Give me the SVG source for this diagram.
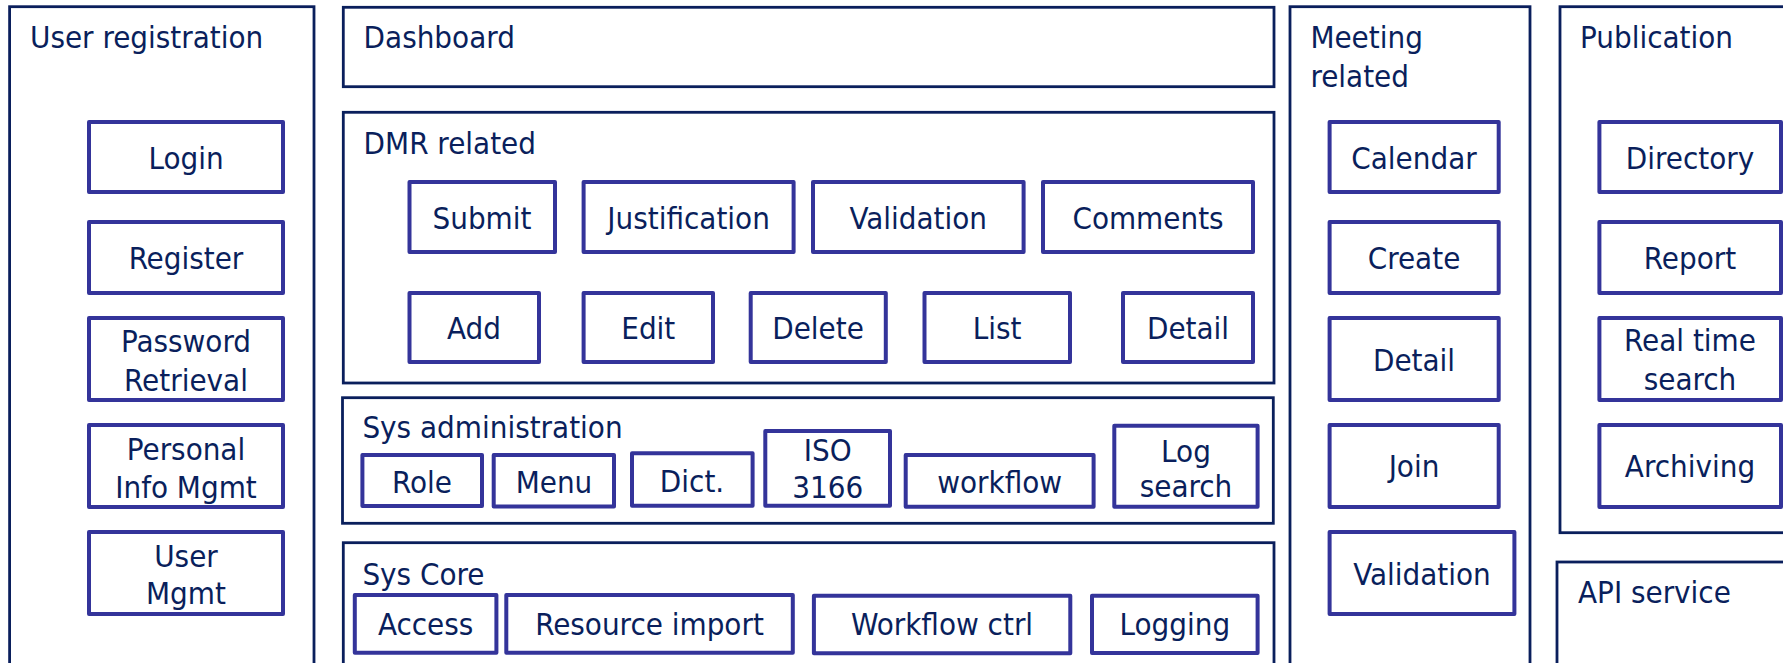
<svg xmlns="http://www.w3.org/2000/svg" width="1783" height="663" viewBox="0 0 1783 663">
<style>
.bg{fill:#ffffff}
.outer{fill:none;stroke:#0a1f5c;stroke-width:2.8}
.inner{fill:#ffffff;stroke:#34349a;stroke-width:4;stroke-linejoin:round}
text{font-family:"DejaVu Sans Condensed","Liberation Sans",sans-serif;font-size:31px;fill:#0a1f5c}
.c{text-anchor:middle}
</style>
<rect class="bg" x="0" y="0" width="1783" height="663"/>

<g id="user-registration">
<rect class="outer" x="9.6" y="6.7" width="304.4" height="680"/>
<text x="30" y="48">User registration</text>
</g>
<g id="login"><rect class="inner" x="89" y="122" width="194" height="70"/><text class="c" x="186" y="169">Login</text></g>
<g id="register"><rect class="inner" x="89" y="222" width="194" height="71"/><text class="c" x="186" y="269">Register</text></g>
<g id="password-retrieval"><rect class="inner" x="89" y="318" width="194" height="82"/><text class="c" x="186" y="352">Password</text><text class="c" x="186" y="391">Retrieval</text></g>
<g id="personal-info"><rect class="inner" x="89" y="425" width="194" height="82"/><text class="c" x="186" y="460">Personal</text><text class="c" x="186" y="498">Info Mgmt</text></g>
<g id="user-mgmt"><rect class="inner" x="89" y="532" width="194" height="82"/><text class="c" x="186" y="567">User</text><text class="c" x="186" y="604">Mgmt</text></g>

<g id="dashboard">
<rect class="outer" x="343.3" y="7.3" width="930.7" height="79.4"/>
<text x="363.6" y="48">Dashboard</text>
</g>

<g id="dmr-related">
<rect class="outer" x="343.3" y="112.3" width="930.7" height="270.7"/>
<text x="363.6" y="154">DMR related</text>
</g>
<g id="dmr-submit"><rect class="inner" x="409.5" y="182" width="145.5" height="70"/><text class="c" x="482" y="229">Submit</text></g>
<g id="dmr-justification"><rect class="inner" x="583.6" y="182" width="210" height="70"/><text class="c" x="688.6" y="229">Justification</text></g>
<g id="dmr-validation"><rect class="inner" x="813" y="182" width="210.6" height="70"/><text class="c" x="918.3" y="229">Validation</text></g>
<g id="dmr-comments"><rect class="inner" x="1043" y="182" width="210" height="70"/><text class="c" x="1148" y="229">Comments</text></g>
<g id="dmr-add"><rect class="inner" x="409.5" y="293" width="129.5" height="69"/><text class="c" x="474" y="339">Add</text></g>
<g id="dmr-edit"><rect class="inner" x="583.6" y="293" width="129.4" height="69"/><text class="c" x="648.3" y="339">Edit</text></g>
<g id="dmr-delete"><rect class="inner" x="750.7" y="293" width="135.1" height="69"/><text class="c" x="818" y="339">Delete</text></g>
<g id="dmr-list"><rect class="inner" x="924.5" y="293" width="145.5" height="69"/><text class="c" x="997" y="339">List</text></g>
<g id="dmr-detail"><rect class="inner" x="1123" y="293" width="130" height="69"/><text class="c" x="1188" y="339">Detail</text></g>

<g id="sys-administration">
<rect class="outer" x="342.5" y="397.7" width="930.8" height="125.6"/>
<text x="362.4" y="438">Sys administration</text>
</g>
<g id="sa-role"><rect class="inner" x="362.4" y="455" width="119.6" height="51"/><text class="c" x="422" y="493">Role</text></g>
<g id="sa-menu"><rect class="inner" x="493.7" y="455" width="120.3" height="51.5"/><text class="c" x="554" y="493">Menu</text></g>
<g id="sa-dict"><rect class="inner" x="632" y="453.3" width="120.6" height="52.4"/><text class="c" x="692" y="492">Dict.</text></g>
<g id="sa-iso"><rect class="inner" x="765.3" y="431" width="124.7" height="74.7"/><text class="c" x="827.7" y="460.7">ISO</text><text class="c" x="827.7" y="498">3166</text></g>
<g id="sa-workflow"><rect class="inner" x="905.7" y="455" width="187.9" height="51.7"/><text class="c" x="999.7" y="493">workflow</text></g>
<g id="sa-log-search"><rect class="inner" x="1114.3" y="425.7" width="143.3" height="81"/><text class="c" x="1186" y="461.7">Log</text><text class="c" x="1186" y="497">search</text></g>

<g id="sys-core">
<rect class="outer" x="343.3" y="542.7" width="930.7" height="140"/>
<text x="362.4" y="585">Sys Core</text>
</g>
<g id="sc-access"><rect class="inner" x="354.8" y="595" width="141.6" height="57.7"/><text class="c" x="425.6" y="635">Access</text></g>
<g id="sc-resource-import"><rect class="inner" x="506.3" y="595" width="286.5" height="57.7"/><text class="c" x="649.5" y="635">Resource import</text></g>
<g id="sc-workflow-ctrl"><rect class="inner" x="813.9" y="595.7" width="256.4" height="57.6"/><text class="c" x="942" y="635">Workflow ctrl</text></g>
<g id="sc-logging"><rect class="inner" x="1092" y="595.7" width="165.6" height="57.3"/><text class="c" x="1174.8" y="635">Logging</text></g>

<g id="meeting-related">
<rect class="outer" x="1290" y="6.7" width="240" height="680"/>
<text x="1310.4" y="47.7">Meeting</text>
<text x="1310.4" y="86.7">related</text>
</g>
<g id="mt-calendar"><rect class="inner" x="1329.6" y="122" width="169.1" height="70"/><text class="c" x="1414" y="169">Calendar</text></g>
<g id="mt-create"><rect class="inner" x="1329.6" y="222" width="169.1" height="71"/><text class="c" x="1414" y="269">Create</text></g>
<g id="mt-detail"><rect class="inner" x="1329.6" y="318" width="169.1" height="82"/><text class="c" x="1414" y="371">Detail</text></g>
<g id="mt-join"><rect class="inner" x="1329.6" y="425" width="169.1" height="82"/><text class="c" x="1414" y="477">Join</text></g>
<g id="mt-validation"><rect class="inner" x="1329.6" y="532" width="184.8" height="82"/><text class="c" x="1422" y="585">Validation</text></g>

<g id="publication">
<rect class="outer" x="1560" y="6.7" width="240" height="526"/>
<text x="1580" y="47.7">Publication</text>
</g>
<g id="pub-directory"><rect class="inner" x="1599.4" y="122" width="181.6" height="70"/><text class="c" x="1690" y="169">Directory</text></g>
<g id="pub-report"><rect class="inner" x="1599.4" y="222" width="181.6" height="71"/><text class="c" x="1690" y="269">Report</text></g>
<g id="pub-realtime"><rect class="inner" x="1599.4" y="318" width="181.6" height="82"/><text class="c" x="1690" y="351">Real time</text><text class="c" x="1690" y="390">search</text></g>
<g id="pub-archiving"><rect class="inner" x="1599.4" y="425" width="181.6" height="82"/><text class="c" x="1690" y="477">Archiving</text></g>

<g id="api-service">
<rect class="outer" x="1557" y="562" width="240" height="140"/>
<text x="1578" y="603">API service</text>
</g>

<g id="connectors"></g>
</svg>
